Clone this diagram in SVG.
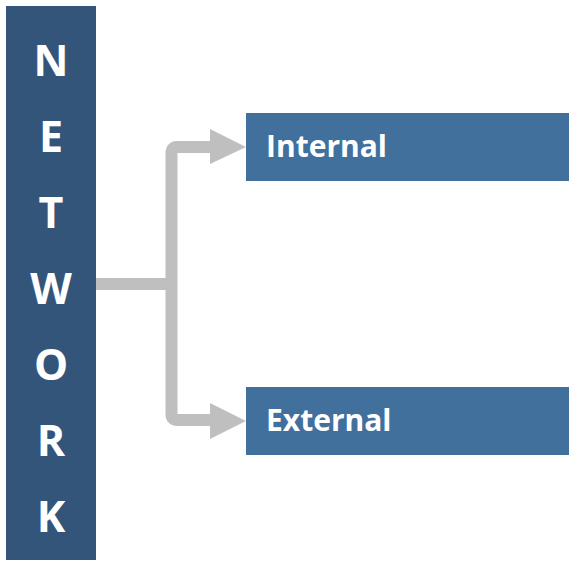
<svg xmlns="http://www.w3.org/2000/svg" width="569" height="561" viewBox="0 0 569 561">
<defs>
<style>
.v{font-family:"Open Sans","Liberation Sans",sans-serif;font-weight:bold;font-size:43px;fill:#fff;text-anchor:middle}
.l{font-family:"Open Sans","Liberation Sans",sans-serif;font-weight:bold;font-size:30px;fill:#fff}
.c{fill:none;stroke:#BFBFBF;stroke-width:12}
.h{fill:#BFBFBF}
</style>
</defs>
<rect width="569" height="561" fill="#fff"/>
<g id="connectors">
<path class="c" d="M96 284 H171.5"/>
<path class="c" d="M212 147 H177 Q171.5 147 171.5 153 V414 Q171.5 420 177 420 H212"/>
<polygon class="h" points="210,129 246,147 210,164"/>
<polygon class="h" points="210,403 246,421 210,439"/>
</g>
<g id="network">
<rect x="6" y="6" width="90" height="554" fill="#34557A"/>
<text class="v" x="51" y="76">N</text>
<text class="v" x="51" y="152">E</text>
<text class="v" x="51" y="228">T</text>
<text class="v" x="51" y="304">W</text>
<text class="v" x="51" y="380">O</text>
<text class="v" x="51" y="456">R</text>
<text class="v" x="51" y="532">K</text>
</g>
<g id="internal">
<rect x="246" y="113" width="323" height="68" fill="#41709D"/>
<text class="l" x="266" y="157">Internal</text>
</g>
<g id="external">
<rect x="246" y="387" width="323" height="68" fill="#41709D"/>
<text class="l" x="266" y="431">External</text>
</g>
</svg>
